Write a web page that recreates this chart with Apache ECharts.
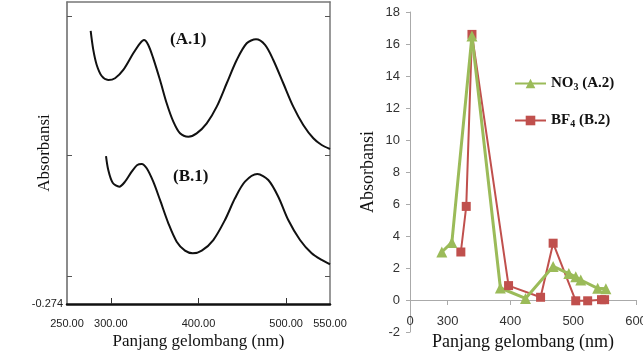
<!DOCTYPE html>
<html><head><meta charset="utf-8">
<script src="https://cdn.jsdelivr.net/npm/echarts@6/dist/echarts.min.js"></script>
<style>html,body{margin:0;padding:0;background:#fff}#c{width:643px;height:352px}</style>
</head><body><div id="c"></div>
<script>
// ---- Left panel (A.1 / B.1 spectra) ----
const leftXLabels = [250, 300, 400, 500, 550];
const leftXTicks = [300, 400, 500];
const leftYMin = -0.274;
const leftYMax = 2.681;
const leftYTicks = [0, 1.184, 2.544];
const a1Wave = [277.0,280.0,283.9,289.6,297.1,304.8,314.2,325.6,333.3,337.8,342.7,348.4,356.1,363.7,371.3,378.9,388.4,397.9,409.4,420.8,432.2,443.6,455.0,465.6,475.9,485.3,496.7,508.1,519.5,531.0,540.5,550.0];
const a1Abs  = [2.398,2.212,2.065,1.957,1.918,1.935,2.016,2.179,2.277,2.309,2.261,2.130,1.918,1.690,1.510,1.396,1.363,1.396,1.494,1.657,1.886,2.114,2.277,2.316,2.261,2.114,1.886,1.657,1.478,1.348,1.282,1.243];
const b1Wave = [294.5,297.1,302.1,309.7,316.2,323.8,330.2,335.2,340.9,348.4,356.1,365.6,375.1,384.6,393.4,403.7,416.9,430.2,441.6,453.0,467.1,479.6,491.0,502.4,515.8,529.1,540.5,550.0];
const b1Abs  = [1.174,1.037,0.913,0.874,0.923,1.021,1.086,1.096,1.054,0.923,0.744,0.516,0.336,0.248,0.222,0.248,0.352,0.548,0.760,0.923,0.998,0.939,0.776,0.548,0.352,0.222,0.157,0.115];

// ---- Right panel (A.2 / B.2) ----
const rightXLabels = [240, 300, 400, 500, 600];
const rightXTicks = [300, 400, 500, 600];
const no3Wave = [290.7,306.7,338.7,384,424,468,493,504,512,539,552];
const no3Abs  = [3.0,3.6,16.5,0.75,0.1,2.1,1.65,1.45,1.25,0.73,0.7];
const bf4Wave = [321,329.6,338.7,397,448,468,504,523,545,550];
const bf4Abs  = [3.0,5.85,16.6,0.9,0.17,3.55,-0.05,-0.05,0.02,0.02];

const zip = (xs, ys) => xs.map((x, i) => [x, ys[i]]);
const serif = '"Liberation Serif", "DejaVu Serif", serif';
const sans = '"Liberation Sans", Arial, sans-serif';

const chart = echarts.init(document.getElementById('c'));
chart.setOption({
  animation: false,
  backgroundColor: '#fff',
  grid: [
    {left: 67, top: 2, width: 263, height: 302, outerBoundsMode: 'none', containLabel: false},
    {left: 410, top: 12, width: 226, height: 320, outerBoundsMode: 'none', containLabel: false}
  ],
  xAxis: [
    {gridIndex: 0, type: 'value', min: 250, max: 550, position: 'bottom',
     axisLine: {onZero: false, lineStyle: {color: '#111', width: 2.5}},
     axisTick: {show: true, inside: true, length: 6, customValues: leftXTicks, lineStyle: {color: '#333'}},
     axisLabel: {customValues: leftXLabels, formatter: v => v.toFixed(2), fontFamily: sans, fontSize: 11, color: '#222', margin: 14},
     splitLine: {show: false},
     name: 'Panjang gelombang (nm)', nameLocation: 'middle', nameGap: 29, nameMoveOverlap: false,
     nameTextStyle: {fontFamily: serif, fontSize: 17, color: '#111'}},
    {gridIndex: 0, type: 'value', min: 250, max: 550, position: 'top',
     axisLine: {show: true, onZero: false, lineStyle: {color: '#777', width: 1.5}},
     axisTick: {show: false}, axisLabel: {show: false}, splitLine: {show: false}},
    {gridIndex: 1, type: 'value', min: 240, max: 600,
     axisLine: {onZero: true, lineStyle: {color: '#aaa', width: 1}},
     axisTick: {show: true, length: 5, customValues: rightXTicks, lineStyle: {color: '#aaa'}},
     axisLabel: {customValues: rightXLabels, formatter: v => v === 240 ? '0' : String(v), fontFamily: sans, fontSize: 13, color: '#333', margin: -17},
     splitLine: {show: false},
     name: 'Panjang gelombang (nm)', nameLocation: 'middle', nameGap: 1, nameMoveOverlap: false,
     nameTextStyle: {fontFamily: serif, fontSize: 18, color: '#111'}}
  ],
  yAxis: [
    {gridIndex: 0, type: 'value', min: leftYMin, max: leftYMax, position: 'left',
     axisLine: {show: true, onZero: false, lineStyle: {color: '#666', width: 1.5}},
     axisTick: {show: true, inside: true, length: 5, customValues: leftYTicks, lineStyle: {color: '#555'}},
     axisLabel: {customValues: [leftYMin], formatter: v => String(v), fontFamily: sans, fontSize: 11, color: '#222', margin: 4},
     splitLine: {show: false},
     name: 'Absorbansi', nameLocation: 'middle', nameGap: 14, nameMoveOverlap: false,
     nameTextStyle: {fontFamily: serif, fontSize: 17, color: '#111'}},
    {gridIndex: 0, type: 'value', min: leftYMin, max: leftYMax, position: 'right',
     axisLine: {show: true, onZero: false, lineStyle: {color: '#777', width: 1.5}},
     axisTick: {show: true, inside: true, length: 5, customValues: leftYTicks, lineStyle: {color: '#555'}},
     axisLabel: {show: false}, splitLine: {show: false}},
    {gridIndex: 1, type: 'value', min: -2, max: 18, interval: 2,
     axisLine: {show: true, lineStyle: {color: '#aaa', width: 1}},
     axisTick: {show: true, length: 4, lineStyle: {color: '#aaa'}},
     axisLabel: {fontFamily: sans, fontSize: 13, color: '#333', margin: 10},
     splitLine: {show: false},
     name: 'Absorbansi', nameLocation: 'middle', nameGap: 33, nameMoveOverlap: false,
     nameTextStyle: {fontFamily: serif, fontSize: 18, color: '#111'}}
  ],
  legend: {
    left: 509, top: 71, orient: 'vertical', itemGap: 21, itemWidth: 31, itemHeight: 12,
    data: ['NO3 (A.2)', 'BF4 (B.2)'],
    formatter: n => n === 'NO3 (A.2)' ? '{b|NO}{s|3}{b| (A.2)}' : '{b|BF}{s|4}{b| (B.2)}',
    textStyle: {
      fontFamily: serif, fontWeight: 'bold', fontSize: 15, color: '#111',
      rich: {
        b: {fontFamily: serif, fontWeight: 'bold', fontSize: 15, color: '#111'},
        s: {fontFamily: serif, fontWeight: 'bold', fontSize: 10, color: '#111', padding: [7, 0, 0, 0]}
      }
    }
  },
  graphic: [
    {type: 'text', left: 170, top: 31, style: {text: '(A.1)', font: 'bold 17px ' + serif, fill: '#111'}},
    {type: 'text', left: 173, top: 168, style: {text: '(B.1)', font: 'bold 17px ' + serif, fill: '#111'}}
  ],
  series: [
    {type: 'line', name: 'A.1', xAxisIndex: 0, yAxisIndex: 0, data: zip(a1Wave, a1Abs), smooth: 0.3,
     showSymbol: false, lineStyle: {color: '#111', width: 2}, itemStyle: {color: '#111'}},
    {type: 'line', name: 'B.1', xAxisIndex: 0, yAxisIndex: 0, data: zip(b1Wave, b1Abs), smooth: 0.3,
     showSymbol: false, lineStyle: {color: '#111', width: 2}, itemStyle: {color: '#111'}},
    {type: 'line', name: 'BF4 (B.2)', xAxisIndex: 2, yAxisIndex: 2, data: zip(bf4Wave, bf4Abs),
     symbol: 'rect', symbolSize: 9, lineStyle: {color: '#c0504d', width: 2}, itemStyle: {color: '#c0504d'}},
    {type: 'line', name: 'NO3 (A.2)', xAxisIndex: 2, yAxisIndex: 2, data: zip(no3Wave, no3Abs),
     symbol: 'triangle', symbolSize: 11, lineStyle: {color: '#9bbb59', width: 3}, itemStyle: {color: '#9bbb59'}}
  ]
});
</script></body></html>
